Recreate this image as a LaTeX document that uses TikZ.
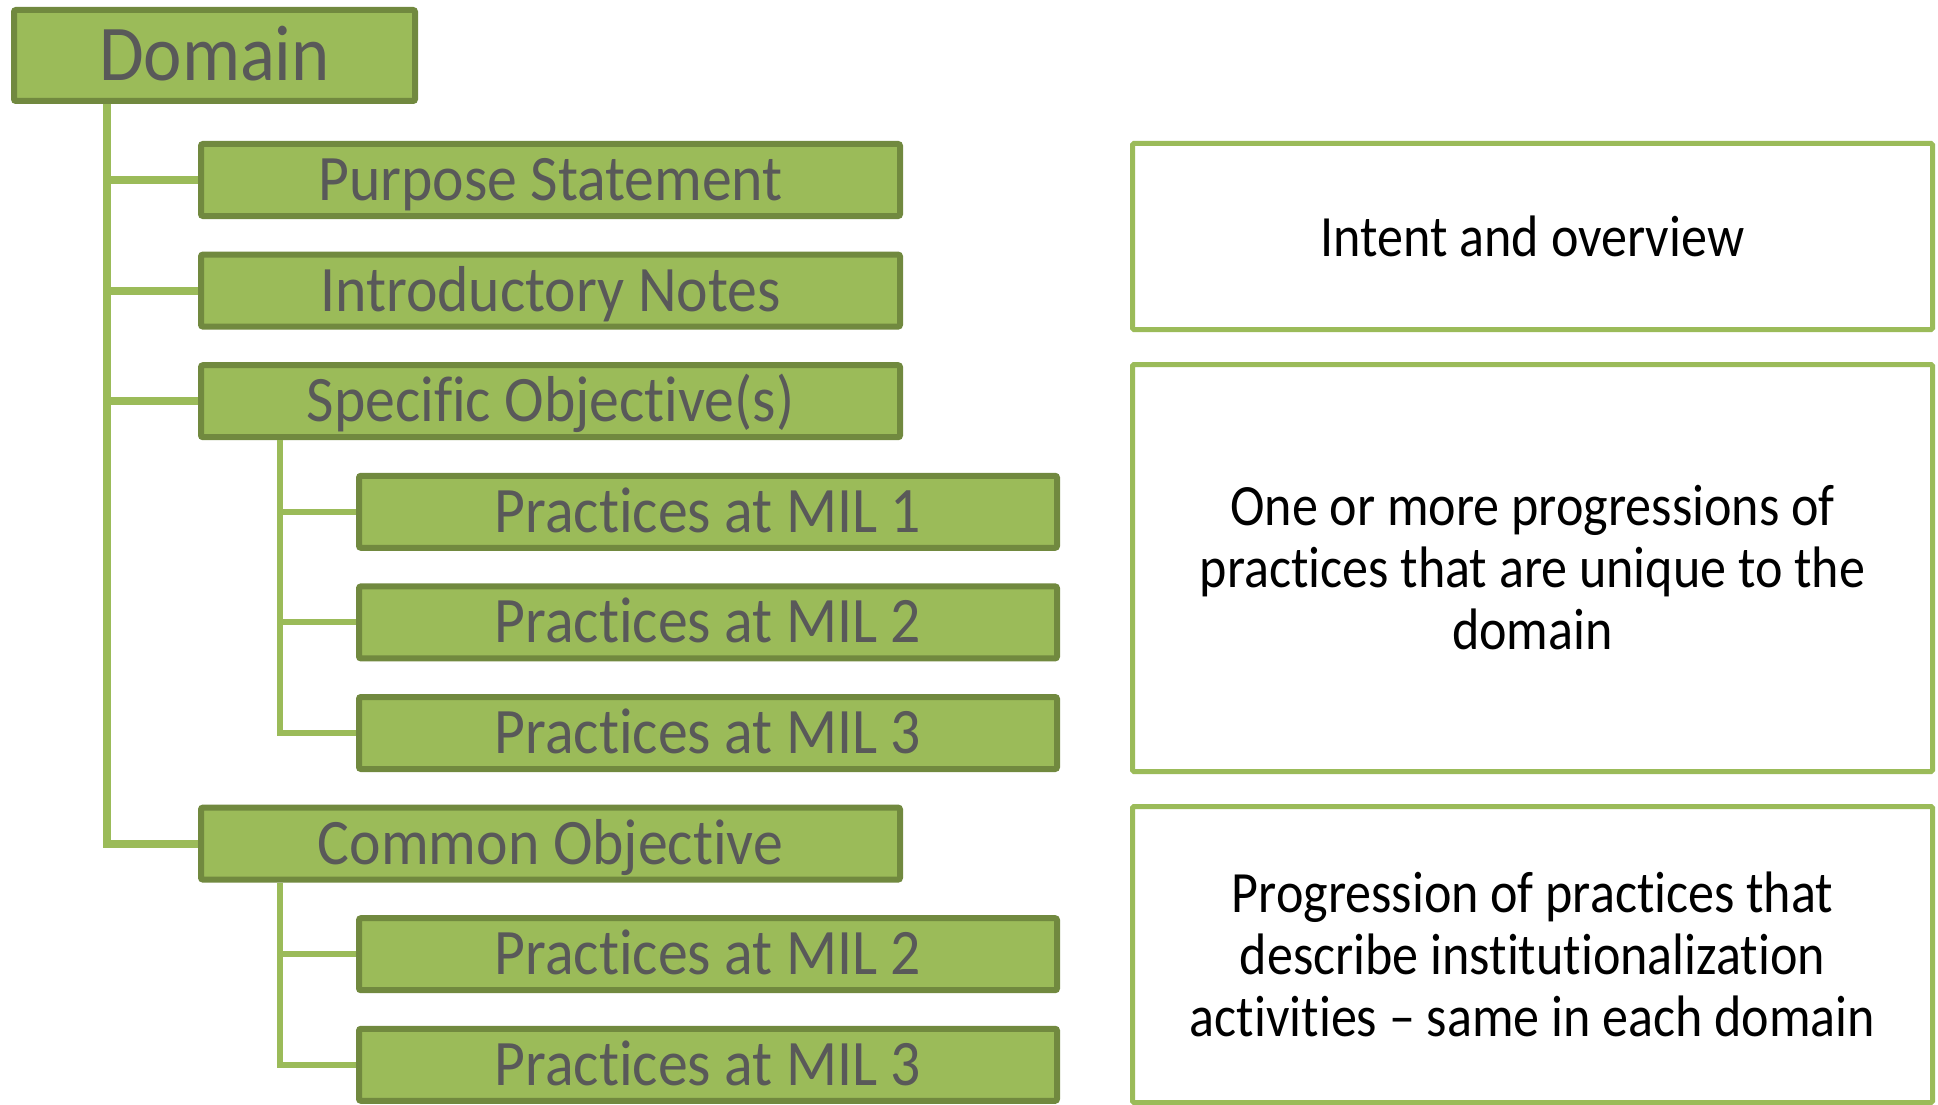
\documentclass[tikz,border=0pt]{standalone}
\usepackage{fontspec}
\setmainfont{Carlito}[FakeStretch=0.89, RawFeature={-liga;-clig;-calt;-dlig}]
\newfontfamily\leftfont{Carlito}[FakeStretch=0.92, RawFeature={-liga;-clig;-calt;-dlig}]
\definecolor{gfill}{HTML}{9BBB59}
\definecolor{gdraw}{HTML}{71893F}
\definecolor{gtext}{HTML}{595959}
\tikzset{
  gbox/.style={draw=gdraw, fill=gfill, line width=6pt, rounded corners=2pt, inner sep=0pt,
    text=gtext, text height=41pt, text depth=0pt, font=\leftfont\fontsize{64.9}{70}\selectfont},
  lvlone/.style={gbox, minimum width=699pt, minimum height=72pt},
  lvltwo/.style={gbox, minimum width=698pt, minimum height=72pt},
  wbox/.style={draw=gfill, fill=white, line width=5pt, rounded corners=1.5pt, inner sep=0pt,
    minimum width=800pt, align=center, text=black, font=\fontsize{58.5}{62}\selectfont},
  trunk/.style={draw=gfill, line width=8pt},
  subtrunk/.style={draw=gfill, line width=6pt}
}
\begin{document}
\begin{tikzpicture}[x=1pt,y=-1pt]
\useasboundingbox (0,0) rectangle (1938,1105);
% green tree
\node[gbox, minimum width=401pt, minimum height=91pt, text height=50pt, font=\leftfont\fontsize{79}{84}\selectfont] (d) at (214.5,55.5) {Domain};
\node[lvlone] (ps) at (550.5,180.0) {Purpose Statement};
\node[lvlone] (in) at (550.5,290.6) {Introductory Notes};
\node[lvlone] (sp) at (550.5,401.2) {Specific Objective(s)};
\node[lvltwo] (m1) at (708,511.8) {Practices at MIL 1};
\node[lvltwo] (m2) at (708,622.4) {Practices at MIL 2};
\node[lvltwo] (m3) at (708,733.0) {Practices at MIL 3};
\node[lvlone] (co) at (550.5,843.6) {Common Objective};
\node[lvltwo] (c2) at (708,954.2) {Practices at MIL 2};
\node[lvltwo] (c3) at (708,1064.8) {Practices at MIL 3};
% connectors
\coordinate (tr) at ([xshift=96pt]d.south west);
\draw[trunk] (tr) |- (co.west);
\draw[trunk] (tr |- ps.west) -- (ps.west);
\draw[trunk] (tr |- in.west) -- (in.west);
\draw[trunk] (tr |- sp.west) -- (sp.west);
\coordinate (sa) at ([xshift=82pt]sp.south west);
\draw[subtrunk] (sa) |- (m3.west);
\draw[subtrunk] (sa |- m1.west) -- (m1.west);
\draw[subtrunk] (sa |- m2.west) -- (m2.west);
\coordinate (sb) at ([xshift=82pt]co.south west);
\draw[subtrunk] (sb) |- (c3.west);
\draw[subtrunk] (sb |- c2.west) -- (c2.west);
% right descriptions
\node[wbox, minimum height=186pt] (r1) at (1532.5,236.5) {Intent and overview};
\node[wbox, minimum height=407pt] (r2) at (1532.5,568) {One or more progressions of\\practices that are unique to the\\domain};
\node[wbox, minimum height=296pt] (r3) at (1532.5,954.5) {Progression of practices that\\describe institutionalization\\activities – same in each domain};
\end{tikzpicture}
\end{document}
